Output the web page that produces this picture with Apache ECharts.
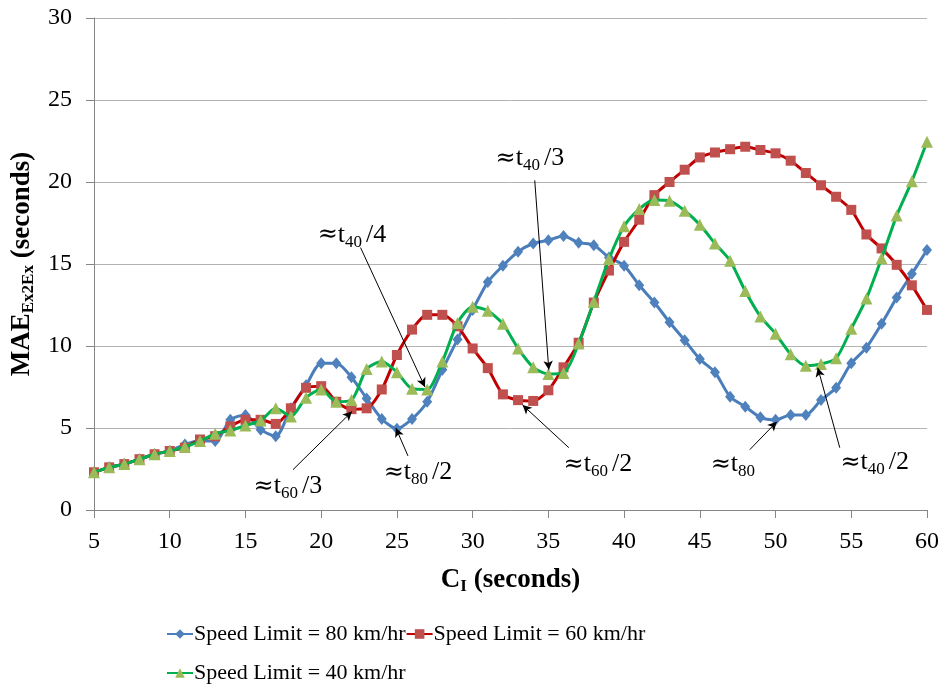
<!DOCTYPE html>
<html>
<head>
<meta charset="utf-8">
<script src="https://cdn.jsdelivr.net/npm/echarts@6/dist/echarts.min.js"></script>
<style>
html,body{margin:0;padding:0;background:#fff;}
#chart{width:946px;height:693px;}
</style>
</head>
<body>
<div id="chart"></div>
<script>
// ---- Data ----
const ciSeconds = [5,6,7,8,9,10,11,12,13,14,15,16,17,18,19,20,21,22,23,24,25,26,27,28,29,30,31,32,33,34,35,36,37,38,39,40,41,42,43,44,45,46,47,48,49,50,51,52,53,54,55,56,57,58,59,60];
const speed80 = [2.3,2.6,2.8,3.1,3.4,3.6,4.0,4.2,4.2,5.5,5.8,4.9,4.5,6.2,7.6,8.95,8.95,8.1,6.8,5.55,4.95,5.55,6.6,8.55,10.4,12.2,13.9,14.9,15.75,16.25,16.45,16.7,16.3,16.15,15.4,14.9,13.7,12.65,11.45,10.35,9.2,8.4,6.9,6.3,5.65,5.5,5.8,5.8,6.7,7.45,8.95,9.9,11.35,12.95,14.4,15.85];
const speed60 = [2.3,2.6,2.8,3.1,3.4,3.6,3.8,4.3,4.5,5.1,5.5,5.5,5.25,6.2,7.45,7.55,6.6,6.15,6.2,7.35,9.45,11.0,11.9,11.9,11.2,9.85,8.65,7.05,6.7,6.65,7.3,8.7,10.2,12.65,14.6,16.35,17.7,19.2,20.0,20.75,21.5,21.8,22.0,22.15,21.95,21.75,21.3,20.55,19.8,19.1,18.3,16.8,15.95,14.95,13.7,12.2];
const speed40 = [2.3,2.6,2.8,3.1,3.4,3.6,3.85,4.2,4.65,4.85,5.15,5.45,6.2,5.7,6.85,7.35,6.6,6.7,8.6,9.05,8.4,7.4,7.35,9.05,11.4,12.4,12.15,11.35,9.85,8.7,8.3,8.35,10.15,12.7,15.3,17.3,18.35,18.9,18.85,18.25,17.4,16.25,15.2,13.35,11.8,10.75,9.5,8.8,8.9,9.25,11.05,12.9,15.35,17.95,20.05,22.45];
const seriesNames = ['Speed Limit = 80 km/hr','Speed Limit = 60 km/hr','Speed Limit = 40 km/hr'];
const yTicks = {min:0, max:30, interval:5};
const xTicks = {min:5, max:60, interval:5};

// annotations: subscript, suffix, label centre [x,y], arrow start [x,y], arrow end [x,y] (data space)
const annotSub = ['40','40','60','80','60','80','40'];
const annotSuffix = ['/3','/4','/3','/2','/2','','/2'];
const annotLabelAt = [[33.78,21.44],[22.03,16.76],[17.8,1.43],[26.39,2.28],[38.27,2.77],[47.18,2.77],[56.55,2.89]];
const annotFrom = [[34.1,20.1],[22.6,16.0],[18.14,2.46],[25.73,3.3],[36.35,3.8],[48.3,3.68],[54.24,3.8]];
const annotTo = [[35.03,8.55],[26.85,7.5],[22.03,6.0],[24.93,5.0],[33.3,6.4],[50.08,5.38],[52.79,8.67]];

// ---- Build ----
const FONT = '"Liberation Serif", "DejaVu Serif", serif';
const pair = arr => ciSeconds.map((x,i)=>[x,arr[i]]);

const styles = [
  {line:'#4A7EBB', mark:'#4F81BD', symbol:'diamond', size:[10,12]},
  {line:'#C00000', mark:'#C0504D', symbol:'rect', size:10},
  {line:'#00B050', mark:'#9BBB59', symbol:'triangle', size:12}
];
const dataSets = [speed80, speed60, speed40];

const series = dataSets.map((d,i)=>({
  name: seriesNames[i],
  type: 'line',
  data: pair(d),
  smooth: 0.25,
  symbol: styles[i].symbol,
  symbolSize: styles[i].size,
  showAllSymbol: true,
  lineStyle: {color: styles[i].line, width: 3},
  itemStyle: {color: styles[i].mark},
  emphasis: {disabled: true},
  animation: false,
  z: 2 + i
}));

const richAnn = {
  q: {fontFamily: '"DejaVu Serif", serif', fontSize: 24, color: '#000'},
  a: {fontFamily: FONT, fontSize: 26, color: '#000'},
  s: {fontFamily: FONT, fontSize: 17, color: '#000', padding: [14,0,0,0]},
  b: {fontFamily: FONT, fontSize: 26, color: '#000', padding: [0,0,0,4]}
};

series.push({
  name: 'annotations',
  type: 'line',
  data: [],
  silent: true,
  animation: false,
  z: 10,
  markLine: {
    silent: true,
    animation: false,
    symbol: ['none','arrow'],
    symbolSize: [7,9],
    lineStyle: {color: '#000', width: 1, type: 'solid'},
    label: {show: false},
    emphasis: {disabled: true},
    data: annotFrom.map((f,i)=>[{coord: f}, {coord: annotTo[i]}])
  },
  markPoint: {
    silent: true,
    animation: false,
    symbol: 'circle',
    symbolSize: 1,
    itemStyle: {color: 'rgba(0,0,0,0)'},
    label: {show: true, position: 'inside', rich: richAnn},
    data: annotLabelAt.map((p,i)=>({
      coord: p,
      label: {formatter: '{q|≈}{a|t}{s|' + annotSub[i] + '}' + (annotSuffix[i] ? '{b|' + annotSuffix[i] + '}' : '')}
    }))
  }
});

const legendText = {fontFamily: FONT, fontSize: 22, color: '#000', padding: [0,0,0,-4]};
const chart = echarts.init(document.getElementById('chart'), null, {renderer: 'canvas'});
chart.setOption({
  backgroundColor: '#fff',
  animation: false,
  grid: {left: 94, right: 19, top: 18, bottom: 183},
  legend: [
    {
      data: [seriesNames[0], seriesNames[1]],
      left: 161, top: 618,
      itemWidth: 26, itemHeight: 12, itemGap: 0,
      textStyle: legendText,
      selectedMode: false
    },
    {
      data: [seriesNames[2]],
      left: 161, top: 657,
      itemWidth: 26, itemHeight: 12, itemGap: 0,
      textStyle: legendText,
      selectedMode: false
    }
  ],
  xAxis: {
    type: 'value',
    min: xTicks.min, max: xTicks.max, interval: xTicks.interval,
    name: '{b|C}{bs|I}{b| (seconds)}',
    nameLocation: 'middle',
    nameGap: 55,
    nameTextStyle: {
      rich: {
        b: {fontFamily: FONT, fontSize: 27, fontWeight: 'bold', color: '#000'},
        bs: {fontFamily: FONT, fontSize: 17, fontWeight: 'bold', color: '#000', padding: [13,0,0,0]}
      }
    },
    axisLine: {show: true, lineStyle: {color: '#868686', width: 1}},
    axisTick: {show: true, length: 8, lineStyle: {color: '#868686'}},
    axisLabel: {fontFamily: FONT, fontSize: 24, color: '#000', margin: 20},
    splitLine: {show: false}
  },
  yAxis: {
    type: 'value',
    min: yTicks.min, max: yTicks.max, interval: yTicks.interval,
    name: '{b|MAE}{bs|Ex2Ex}{b| (seconds)}',
    nameLocation: 'middle',
    nameGap: 50,
    nameTextStyle: {
      rich: {
        b: {fontFamily: FONT, fontSize: 27, fontWeight: 'bold', color: '#000'},
        bs: {fontFamily: FONT, fontSize: 17, fontWeight: 'bold', color: '#000', padding: [13,0,0,0]}
      }
    },
    axisLine: {show: true, lineStyle: {color: '#868686', width: 1}},
    axisTick: {show: true, length: 8, lineStyle: {color: '#868686'}},
    axisLabel: {fontFamily: FONT, fontSize: 24, color: '#000', margin: 22},
    splitLine: {show: true, lineStyle: {color: '#b3b3b3', width: 1}}
  },
  series: series
});
</script>
</body>
</html>
